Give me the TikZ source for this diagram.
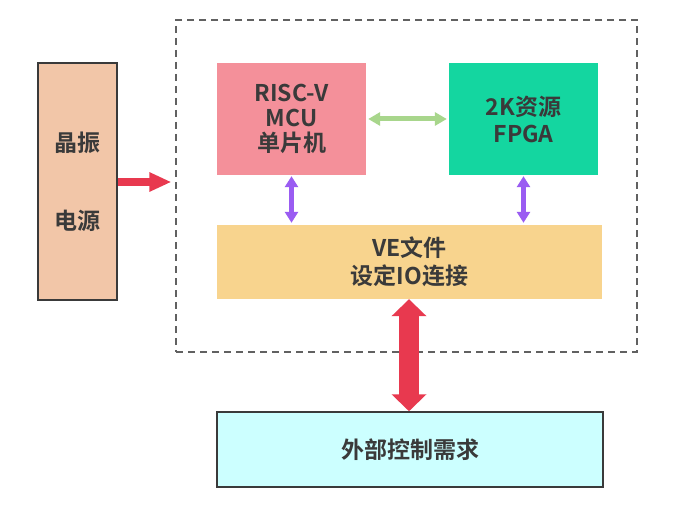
\documentclass[tikz,border=0pt]{standalone}
\usepackage{fontspec}
\newfontfamily\cjk{Noto Sans CJK SC}[BoldFont={* Bold}]
\usetikzlibrary{arrows.meta}
\definecolor{textgray}{HTML}{3A3A3A}
\definecolor{oscfill}{HTML}{F2C6A8}
\definecolor{mcufill}{HTML}{F4909A}
\definecolor{fpgafill}{HTML}{14D6A0}
\definecolor{vefill}{HTML}{F8D48E}
\definecolor{extfill}{HTML}{CCFFFF}
\definecolor{arrowred}{HTML}{E8394F}
\definecolor{arrowgreen}{HTML}{A8D68C}
\definecolor{arrowpurple}{HTML}{9A5CF2}
\begin{document}
\begin{tikzpicture}[%
            x=1pt, y=-1pt,
            myblock/.style={shape=rectangle, inner sep=0pt, align=center, text=textgray,
                font=\cjk\bfseries\fontsize{23}{25}\selectfont},
            myframe/.style={myblock, draw=textgray, line width=1.5pt},
            redarrow/.style={draw=arrowred, line width=8pt, -{Triangle[length=22pt,width=18pt]}},
            bigredarrow/.style={draw=arrowred, line width=20pt,
                {Triangle[length=17pt,width=34pt]}-{Triangle[length=17pt,width=34pt]}},
            greenarrow/.style={draw=arrowgreen, line width=5pt, shorten <=2pt, shorten >=2pt,
                {Triangle[length=12pt,width=13pt]}-{Triangle[length=12pt,width=13pt]}},
            purplearrow/.style={draw=arrowpurple, line width=5pt, shorten <=1pt, shorten >=2pt,
                {Triangle[length=11pt,width=13pt]}-{Triangle[length=11pt,width=13pt]}}
        ]
        \useasboundingbox [fill=white] (0,0) rectangle (693,516);
        % board outline
        \node (board) at (406.5,186) [shape=rectangle, draw=textgray!80, line width=1.2pt,
            dash pattern=on 7pt off 5pt, minimum width=461pt, minimum height=332pt] {};
        % blocks
        \node (osc) at (77.5,181.5) [myframe, fill=oscfill, minimum width=79pt, minimum height=237pt]
            {晶振\\[53pt]电源};
        \node (mcu) at (291.5,119) [myblock, fill=mcufill, minimum width=149pt, minimum height=112pt]
            {RISC-V\\MCU\\单片机};
        \node (fpga) at (523.5,119) [myblock, fill=fpgafill, minimum width=149pt, minimum height=112pt,
            font=\cjk\bfseries\fontsize{23}{27}\selectfont] {2K资源\\FPGA};
        \node (ve) at (409.5,262) [myblock, fill=vefill, minimum width=385pt, minimum height=74pt,
            font=\cjk\bfseries\fontsize{23}{28}\selectfont] {VE文件\\设定IO连接};
        \node (ext) at (410,449.5) [myframe, fill=extfill, minimum width=386pt, minimum height=75pt]
            {外部控制需求};
        % connectors
        \draw [redarrow] (osc.east |- 0,182) -- ([xshift=-4pt]board.west |- 0,182);
        \draw [greenarrow] (mcu) -- (fpga);
        \draw [purplearrow] (mcu.south) -- (mcu.south |- ve.north);
        \draw [purplearrow] (fpga.south) -- (fpga.south |- ve.north);
        \draw [bigredarrow] (ve.south -| 409,0) -- (ext.north -| 409,0);
    \end{tikzpicture}
\end{document}
